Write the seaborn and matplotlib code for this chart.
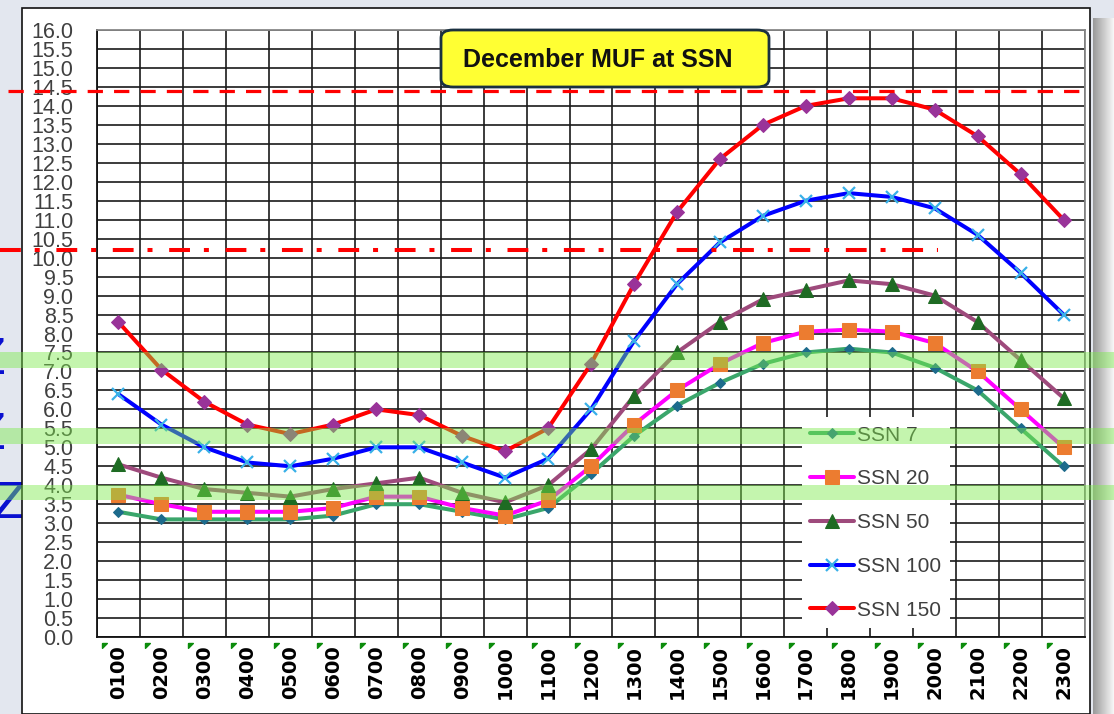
import numpy as np
import pandas as pd
import matplotlib
matplotlib.use("Agg")
import matplotlib.pyplot as plt
import seaborn as sns
from matplotlib import transforms, patches
from matplotlib.path import Path
from matplotlib.ticker import FixedLocator, FormatStrFormatter

hours = ["0100", "0200", "0300", "0400", "0500", "0600", "0700", "0800",
         "0900", "1000", "1100", "1200", "1300", "1400", "1500", "1600",
         "1700", "1800", "1900", "2000", "2100", "2200", "2300"]

ssn7 = [3.3, 3.1, 3.1, 3.1, 3.1, 3.2, 3.5, 3.5, 3.3, 3.1, 3.4, 4.3,
        5.3, 6.1, 6.7, 7.2, 7.5, 7.6, 7.5, 7.1, 6.5, 5.5, 4.5]
ssn20 = [3.75, 3.5, 3.3, 3.3, 3.3, 3.4, 3.7, 3.7, 3.4, 3.2, 3.6, 4.5,
         5.6, 6.5, 7.2, 7.75, 8.05, 8.1, 8.05, 7.75, 7.0, 6.0, 5.0]
ssn50 = [4.55, 4.2, 3.9, 3.8, 3.7, 3.9, 4.05, 4.2, 3.8, 3.55, 4.0, 4.95,
         6.35, 7.5, 8.3, 8.9, 9.15, 9.4, 9.3, 9.0, 8.3, 7.3, 6.3]
ssn100 = [6.4, 5.6, 5.0, 4.6, 4.5, 4.7, 5.0, 5.0, 4.6, 4.2, 4.7, 6.0,
          7.8, 9.3, 10.4, 11.1, 11.5, 11.7, 11.6, 11.3, 10.6, 9.6, 8.5]
ssn150 = [8.3, 7.05, 6.2, 5.6, 5.35, 5.6, 6.0, 5.85, 5.3, 4.9, 5.5, 7.2,
          9.3, 11.2, 12.6, 13.5, 14.0, 14.2, 14.2, 13.9, 13.2, 12.2, 11.0]

series_names = ["SSN 7", "SSN 20", "SSN 50", "SSN 100", "SSN 150"]
series_values = [ssn7, ssn20, ssn50, ssn100, ssn150]

# ham bands shaded across the sheet (MHz)
bands = [(7.1, 7.5), (5.1, 5.5), (3.6, 4.0)]
ref_high = 14.4
ref_low = 10.2

styles = {
    "SSN 7": dict(color="#3aa66b", marker="D", markersize=5.2, markerfacecolor="#1d6b8c", markeredgecolor="#1d6b8c"),
    "SSN 20": dict(color="#ff00ff", marker="s", markersize=10, markerfacecolor="#ec7c30", markeredgecolor="#ec7c30"),
    "SSN 50": dict(color="#9e4a7c", marker="^", markersize=10, markerfacecolor="#1e6b23", markeredgecolor="#1e6b23"),
    "SSN 100": dict(color="#0000ff", marker="x", markersize=8, markeredgewidth=1.6, markeredgecolor="#38b0e8"),
    "SSN 150": dict(color="#ff0000", marker="D", markersize=7, markerfacecolor="#993399", markeredgecolor="#993399"),
}

sns.set_style("white")
plt.rcParams["font.family"] = ["Liberation Sans", "DejaVu Sans"]
plt.rcParams["lines.scale_dashes"] = False

W, H = 1114, 714
fig = plt.figure(figsize=(W / 100, H / 100), dpi=100, facecolor="#e3e7ef")

# blue text peeking out on the left, behind the chart panel
for yc, xr in [(360, 6), (435, 6), (504, 26)]:
    fig.text(xr / W, 1 - yc / H, "Z", color="#0a10d0", fontsize=36,
             ha="right", va="center", family="DejaVu Sans", zorder=1)

panel = patches.Rectangle((22 / W, 0), (1090 - 22) / W, 1 - 8 / H,
                          transform=fig.transFigure, facecolor="white",
                          edgecolor="#111111", lw=1.2, zorder=2)
fig.add_artist(panel)

# shadow on the right edge
sh = fig.add_axes([1093 / W, 0, 21 / W, 1 - 18 / H])
sh.imshow(np.linspace(0.6, 0.97, 50)[None, :], cmap="gray", vmin=0, vmax=1,
          aspect="auto")
sh.axis("off")

ax = fig.add_axes([97 / W, 1 - 637 / H, (1085 - 97) / W, (637 - 30) / H])
ax.set_zorder(5)
ax.set_facecolor("white")

df = pd.DataFrame({"hour": hours})
for name, vals in zip(series_names, series_values):
    df[name] = vals

for name in series_names:
    sns.lineplot(data=df, x="hour", y=name, ax=ax, label=name,
                 linewidth=2.9, sort=False, **styles[name])

ax.set_xlim(-0.5, len(hours) - 0.5)
ax.set_ylim(0, 16)
ax.set_xlabel("")
ax.set_ylabel("")

ax.set_yticks(np.arange(0, 16.01, 0.5))
ax.yaxis.set_major_formatter(FormatStrFormatter("%.1f"))
ax.tick_params(axis="y", length=0, pad=17, labelsize=15.5, labelcolor="#404040")

ax.set_xticks(hours)
ax.set_xticklabels(hours, rotation=90, fontsize=14, fontweight="bold",
                   family="DejaVu Sans", color="black")
ax.tick_params(axis="x", which="major", length=0, pad=6)
ax.xaxis.set_minor_locator(FixedLocator(np.arange(-0.5, len(hours), 1)))
ax.tick_params(axis="x", which="minor", length=5, color="black", width=1.2)

ax.set_axisbelow(True)
ax.grid(True, which="major", axis="y", color="#1a1a1a", lw=1.2)
ax.grid(True, which="minor", axis="x", color="#1a1a1a", lw=1.2)
ax.grid(False, which="major", axis="x")
for side in ["left", "bottom"]:
    ax.spines[side].set_color("#111111")
    ax.spines[side].set_linewidth(1.3)
for side in ["top", "right"]:
    ax.spines[side].set_color("#888888")
    ax.spines[side].set_linewidth(1.3)

# little green cell triangles under the axis
tri = Path([(0, 0), (1, 0), (0, -1), (0, 0)])
ax.plot(np.arange(-0.5, len(hours) - 0.5, 1) + 0.12, np.full(len(hours), -0.01),
        transform=transforms.blended_transform_factory(ax.transData, ax.transAxes),
        ls="none", marker=tri, ms=7, color="#0c8c0c", clip_on=False)

handles, labels = ax.get_legend_handles_labels()
leg = ax.legend(handles, labels, loc="lower left",
                bbox_to_anchor=((802 - 97) / 988, (637 - 628) / 607),
                frameon=True, facecolor="white", edgecolor="none", framealpha=1,
                fancybox=False, fontsize=15, labelspacing=1.19,
                handlelength=2.1, handletextpad=0.15, borderpad=0.4,
                borderaxespad=0, labelcolor="#404040", numpoints=1)

blend = transforms.blended_transform_factory(fig.transFigure, ax.transData)
for lo, hi in bands:
    ax.add_patch(patches.Rectangle((0, lo), 1, hi - lo, transform=blend,
                                   facecolor="#7ceb4c", alpha=0.45, lw=0,
                                   clip_on=False, zorder=6))

ax.plot([8 / W, 1090 / W], [ref_high, ref_high], transform=blend, clip_on=False,
        color="#ff0000", lw=2.3, ls=(0, (11, 8)), zorder=7)
ax.plot([0, 938 / W], [ref_low, ref_low], transform=blend, clip_on=False,
        color="#ff0000", lw=2.9, ls=(0, (15, 10, 3.6, 12)), zorder=7)

box = patches.FancyBboxPatch((441 / W, 1 - 87 / H), 328 / W, 57 / H,
                             boxstyle="round,pad=0,rounding_size=0.011",
                             transform=fig.transFigure, facecolor="#ffff33",
                             edgecolor="#1a3040", lw=2, zorder=8)
fig.add_artist(box)
fig.text(598 / W, 1 - 60 / H, "December MUF at SSN", ha="center", va="center",
         fontsize=18, fontweight="bold", color="#111111", zorder=9)

fig.savefig("out.png", dpi=100, facecolor=fig.get_facecolor())
